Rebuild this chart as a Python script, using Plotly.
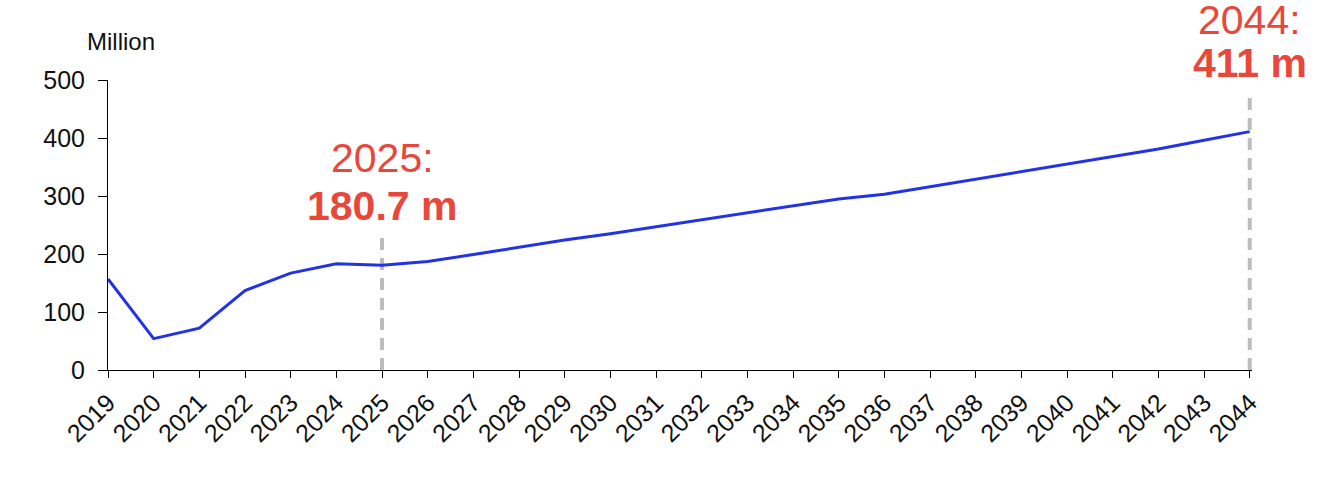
import plotly.graph_objects as go

years = list(range(2019, 2045))
passengers = [157, 54, 72, 137, 167, 183, 180.7, 187, 199, 212, 224, 235, 247,
              259, 272, 284, 295, 303, 316, 328, 341, 355, 367, 381, 396, 411]
y_ticks = [0, 100, 200, 300, 400, 500]
highlight_years = [2025, 2044]
highlight_labels = ["180.7 m", "411 m"]
dash_tops = [230, 480]

RED = "#E8473A"
FONT = "Liberation Sans, Arial, sans-serif"
Y_MAX = 500

fig = go.Figure()
for hy, top in zip(highlight_years, dash_tops):
    fig.add_trace(go.Scatter(x=[hy, hy], y=[0, top], mode="lines",
                             line=dict(color="#BDBDBD", width=4, dash="12px,8px"),
                             hoverinfo="skip", showlegend=False, cliponaxis=False))
fig.add_trace(go.Scatter(x=years, y=passengers, mode="lines",
                         line=dict(color="#2233E6", width=3),
                         showlegend=False, cliponaxis=False))

annotations = [
    dict(text="Million", xref="paper", yref="paper", x=-0.0201, y=1.134,
         xanchor="left", yanchor="middle", showarrow=False,
         font=dict(size=24, color="#111111", family=FONT)),
]
# label positions as fractions of the plot height
label_y = {2025: (0.731, 0.5655), 2044: (1.207, 1.060)}
for hy, lab in zip(highlight_years, highlight_labels):
    y1, y2 = label_y[hy]
    annotations.append(dict(text=f"{hy}:", x=hy, y=y1, xref="x", yref="paper",
                            showarrow=False, xanchor="center", yanchor="middle",
                            font=dict(size=41, color=RED, family=FONT)))
    annotations.append(dict(text=f"<b>{lab}</b>", x=hy, y=y2, xref="x", yref="paper",
                            showarrow=False, xanchor="center", yanchor="middle",
                            font=dict(size=41, color=RED, family=FONT)))

fig.update_layout(
    width=1320, height=477,
    margin=dict(l=108, r=68, t=80, b=107),
    paper_bgcolor="white", plot_bgcolor="white",
    font=dict(family=FONT, color="#111111"),
    annotations=annotations,
    hovermode=False,
    xaxis=dict(range=[2019, 2044.05], tickmode="array", tickvals=years,
               ticktext=[str(y) for y in years], tickangle=-45, automargin=False,
               showgrid=False, zeroline=False, showline=True,
               linecolor="black", linewidth=1, ticks="outside", ticklen=7,
               tickcolor="black", tickfont=dict(size=25, color="#111111")),
    yaxis=dict(range=[0, Y_MAX], tickmode="array", tickvals=y_ticks, automargin=False,
               showgrid=False, zeroline=False, showline=True,
               linecolor="black", linewidth=1, ticks="outside", ticklen=9,
               tickcolor="black", ticklabelstandoff=8,
               tickfont=dict(size=25, color="#111111")),
)

fig.write_html("out.html", config={"displayModeBar": False},
               post_script="document.body.style.margin='0';document.body.style.overflow='hidden';")
